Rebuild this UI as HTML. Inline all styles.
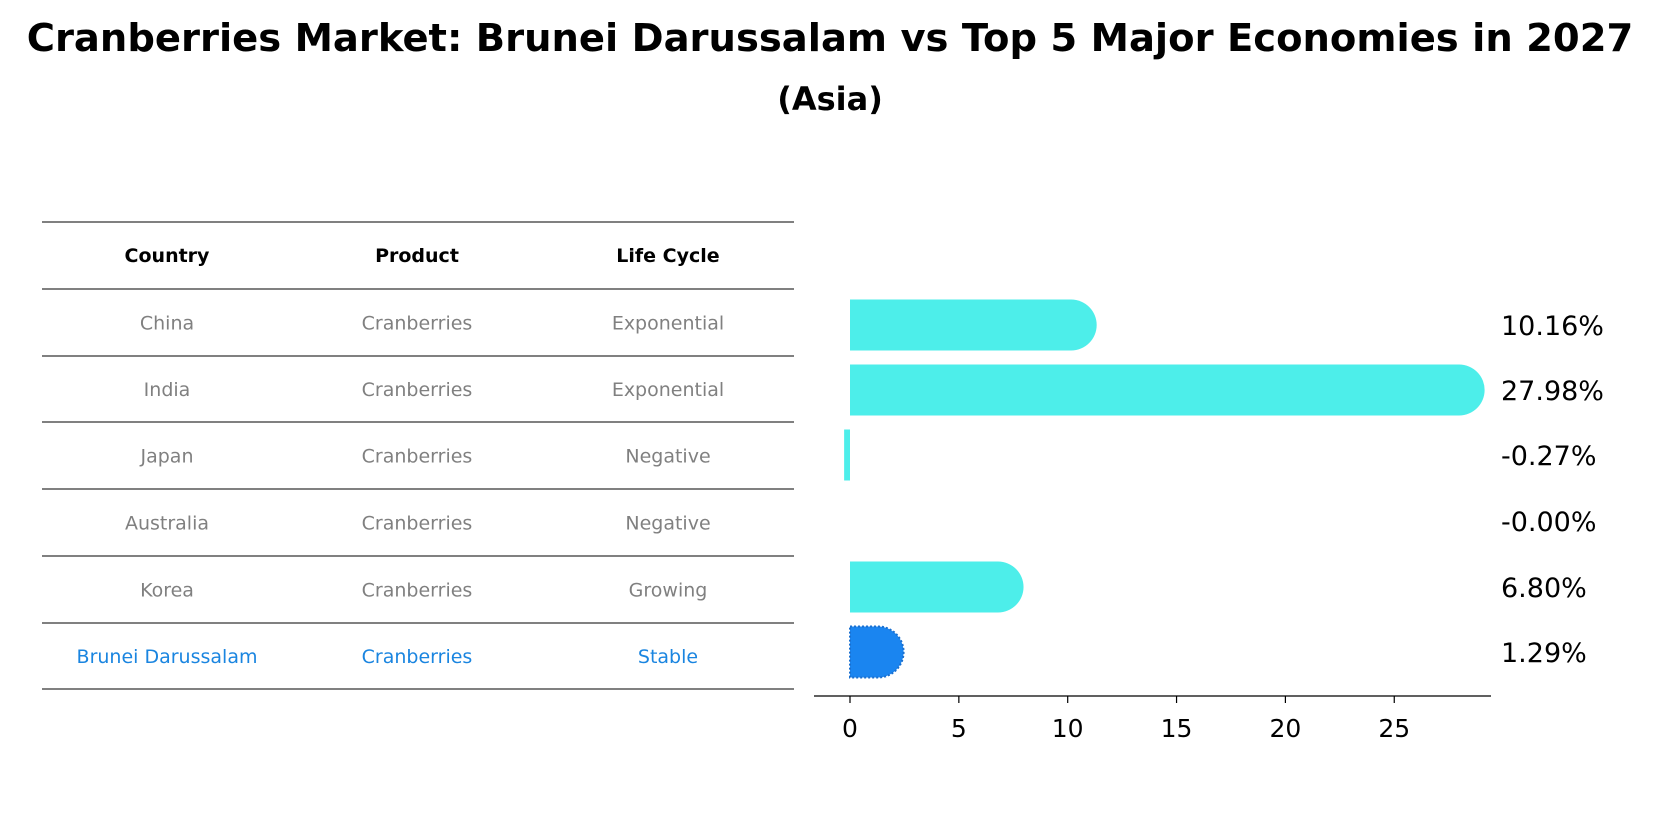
<!DOCTYPE html>
<html><head><meta charset="utf-8"><style>
body{margin:0;background:#fff;font-family:"DejaVu Sans","Liberation Sans",sans-serif;}
#wrap{position:relative;width:1660px;height:823px;overflow:hidden;}
</style></head><body>
<div id="wrap">
<svg id="svg" width="1660" height="823" xmlns="http://www.w3.org/2000/svg">
<text x="830" y="51" text-anchor="middle" font-size="38.5" font-weight="bold">Cranberries Market: Brunei Darussalam vs Top 5 Major Economies in 2027</text>
<text x="830" y="110" text-anchor="middle" font-size="32" font-weight="bold">(Asia)</text>
<g id="table"></g>
<g id="bars"></g>
</svg>
</div>
<script>
const countries=["China","India","Japan","Australia","Korea","Brunei Darussalam"];
const products=["Cranberries","Cranberries","Cranberries","Cranberries","Cranberries","Cranberries"];
const lifecycles=["Exponential","Exponential","Negative","Negative","Growing","Stable"];
const growth=[10.16,27.98,-0.27,-0.00,6.80,1.29];
const labels=["10.16%","27.98%","-0.27%","-0.00%","6.80%","1.29%"];
const ticks=[0,5,10,15,20,25];
const NS="http://www.w3.org/2000/svg";
function mk(tag,attrs,parent,text){const e=document.createElementNS(NS,tag);for(const k in attrs)e.setAttribute(k,attrs[k]);if(text!==undefined)e.textContent=text;parent.appendChild(e);return e;}
const tbl=document.getElementById('table');
const lineY=[222,289,356,422,489,556,623,689];
const colX=[167,417,668];
lineY.forEach((y,i)=>{const l=mk('line',{x1:42,x2:794,y1:y,y2:y,stroke:'#000','stroke-width':1},tbl);

});
["Country","Product","Life Cycle"].forEach((h,j)=>{const t=mk('text',{x:colX[j],y:262,'text-anchor':'middle','font-size':19,'font-weight':'bold'},tbl,h);

});
countries.forEach((c,i)=>{const y=(lineY[i+1]+lineY[i+2])/2+7;const col=i===5?'#1a85e0':'#808080';
[c,products[i],lifecycles[i]].forEach((v,j)=>{const t=mk('text',{x:colX[j],y:y,'text-anchor':'middle','font-size':19,fill:col},tbl,v);

});});
const g=document.getElementById('bars');
const x0=850,sc=21.77;const X=v=>x0+v*sc;
const rowY=[325,390,455,521,587,652];const bh=51,r=25.5;
growth.forEach((v,i)=>{const cy=rowY[i];const top=cy-bh/2;const xv=X(v);let d;
if(v>0){d=`M${x0},${top} L${xv},${top} A${r},${r} 0 0 1 ${xv},${top+bh} L${x0},${top+bh} Z`;}
else{d=`M${xv},${top} L${x0},${top} L${x0},${top+bh} L${xv},${top+bh} Z`;}
const brunei=i===5;
const p=mk('path',{d:d,fill:brunei?'#1a85f0':'#4deeea',stroke:brunei?'#1a70d0':'none','stroke-width':brunei?2:0,'stroke-dasharray':brunei?'2,2':'none'},g);


const t=mk('text',{x:1501,y:cy+10,'font-size':27},g,labels[i]);

});
const ax=mk('line',{x1:814,x2:1491,y1:696,y2:696,stroke:'#000','stroke-width':1.3},g);


ticks.forEach(tk=>{const tl=mk('line',{x1:X(tk),x2:X(tk),y1:696,y2:703,stroke:'#000','stroke-width':1.2},g);


const tt=mk('text',{x:X(tk),y:737,'text-anchor':'middle','font-size':25},g,String(tk));

});
</script>
</body></html>
